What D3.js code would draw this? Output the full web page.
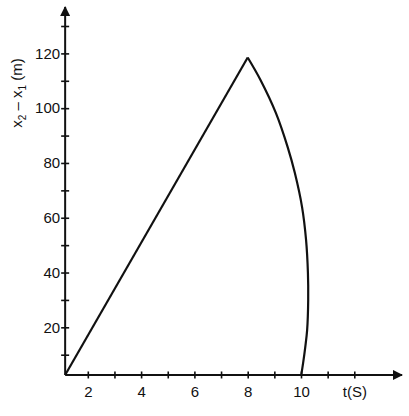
<!DOCTYPE html>
<html>
<head>
<meta charset="utf-8">
<script src="https://cdn.jsdelivr.net/npm/d3@7"></script>
<style>
  body { margin: 0; background: #fff; }
  svg text { font-family: "Liberation Sans", Arial, sans-serif; fill: #111; }
</style>
</head>
<body>
<div class="mainviz"></div>
<script>
// straight rise, then the curved return to the axis
var lineT = [1.15, 8];
var lineV = [2.6, 118.5];
var curveT = [8, 8.48, 9.06, 9.50, 9.77, 10.04, 10.19, 10.26, 10.27, 10.23, 10.16, 10.08, 10.01];
var curveV = [118.5, 110.3, 98.2, 85.8, 76.3, 63.9, 51.9, 39.8, 30.0, 19.0, 12.8, 7.0, 2.6];

var xTicks = [2, 3, 4, 5, 6, 7, 8, 9, 10, 11, 12];
var xLabels = { 2: "2", 4: "4", 6: "6", 8: "8", 10: "10", 12: "t(S)" };
var yTicks = [10, 20, 30, 40, 50, 60, 70, 80, 90, 100, 110, 120, 130];
var yLabels = { 20: "20", 40: "40", 60: "60", 80: "80", 100: "100", 120: "120" };
var origin = { t: 1.15, v: 2.6 };

var width = 409, height = 416;

var svg = d3.select(".mainviz").append("svg")
	.attr("width", width)
	.attr("height", height);

var x = d3.scaleLinear()
	.domain([0, 12])
	.range([34.5, 354.3]);

var y = d3.scaleLinear()
	.domain([0, 130])
	.range([382.1, 26]);

var x0 = x(origin.t), y0 = y(origin.v);

// arrow heads
var defs = svg.append("defs");
defs.append("marker")
	.attr("id", "arrow")
	.attr("viewBox", "0 0 10 10")
	.attr("refX", 9).attr("refY", 5)
	.attr("markerWidth", 10).attr("markerHeight", 10)
	.attr("markerUnits", "userSpaceOnUse")
	.attr("orient", "auto")
	.append("path")
	.attr("d", "M0,0 L10,5 L0,10 Z")
	.attr("fill", "#111");

var xAxis = d3.axisBottom(x)
	.tickValues(xTicks)
	.tickSize(0)
	.tickPadding(0)
	.tickFormat(function(d){ return xLabels[d] || ""; });

var yAxis = d3.axisLeft(y)
	.tickValues(yTicks)
	.tickSize(0)
	.tickPadding(0)
	.tickFormat(function(d){ return yLabels[d] || ""; });

var gx = svg.append("g")
	.attr("transform", "translate(0," + y0 + ")")
	.call(xAxis);
gx.select(".domain").remove();
gx.selectAll(".tick line").attr("y1", -3.5).attr("y2", 3.5)
	.attr("stroke", "#111").attr("stroke-width", 1.6);
gx.selectAll(".tick text")
	.attr("y", 22).attr("dy", null)
	.attr("font-size", 15);

var gy = svg.append("g")
	.attr("transform", "translate(" + x0 + ",0)")
	.call(yAxis);
gy.select(".domain").remove();
gy.selectAll(".tick line").attr("x1", -4).attr("x2", 4)
	.attr("stroke", "#111").attr("stroke-width", 1.6);
gy.selectAll(".tick text")
	.attr("x", -5)
	.attr("font-size", 15);

// axis lines with arrows
svg.append("line")
	.attr("x1", x0).attr("y1", y0)
	.attr("x2", 402).attr("y2", y0)
	.attr("stroke", "#111").attr("stroke-width", 2)
	.attr("marker-end", "url(#arrow)");
svg.append("line")
	.attr("x1", x0).attr("y1", y0)
	.attr("x2", x0).attr("y2", 7)
	.attr("stroke", "#111").attr("stroke-width", 2)
	.attr("marker-end", "url(#arrow)");

var straight = d3.line()
	.x(function(d){ return x(d[0]); })
	.y(function(d){ return y(d[1]); });

var curved = d3.line()
	.x(function(d){ return x(d[0]); })
	.y(function(d){ return y(d[1]); })
	.curve(d3.curveCatmullRom);

svg.append("path")
	.attr("d", straight(d3.zip(lineT, lineV)))
	.attr("fill", "none")
	.attr("stroke", "#111")
	.attr("stroke-width", 2.2);

svg.append("path")
	.attr("d", curved(d3.zip(curveT, curveV)))
	.attr("fill", "none")
	.attr("stroke", "#111")
	.attr("stroke-width", 2.2);

// y axis title
var title = svg.append("text")
	.attr("transform", "translate(22," + 93 + ") rotate(-90)")
	.attr("text-anchor", "middle")
	.attr("font-size", 15);
title.append("tspan").text("x");
title.append("tspan").attr("font-size", 10).attr("dy", 4).text("2");
title.append("tspan").attr("dy", -4).text(" \u2013 x");
title.append("tspan").attr("font-size", 10).attr("dy", 4).text("1");
title.append("tspan").attr("dy", -4).text(" (m)");
</script>
</body>
</html>
